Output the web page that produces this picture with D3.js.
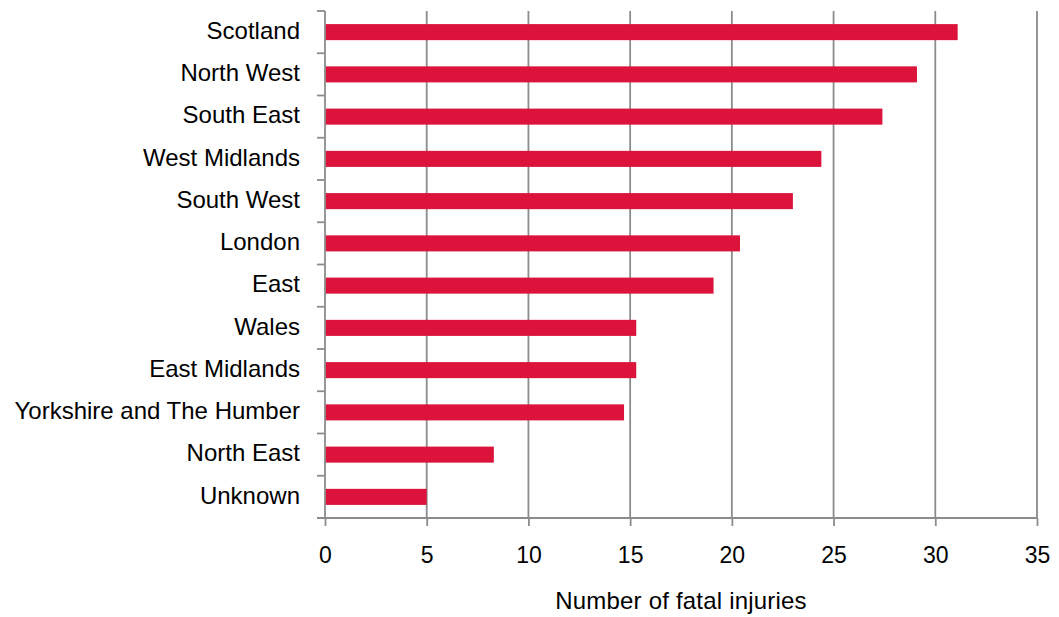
<!DOCTYPE html>
<html>
<head>
<meta charset="utf-8">
<script src="https://cdn.jsdelivr.net/npm/d3@7"></script>
<style>
  html, body { margin: 0; padding: 0; background: #fff; }
  svg { display: block; font-family: "Liberation Sans", Arial, sans-serif; }
</style>
</head>
<body>
<svg id="chart" width="1059" height="617"></svg>
<script>
// Fatal injuries by region
const regions = ["Scotland", "North West", "South East", "West Midlands", "South West",
  "London", "East", "Wales", "East Midlands", "Yorkshire and The Humber", "North East", "Unknown"];
const fatalInjuries = [31.1, 29.1, 27.4, 24.4, 23.0, 20.4, 19.1, 15.3, 15.3, 14.7, 8.3, 5.0];
const xTicks = [0, 5, 10, 15, 20, 25, 30, 35];
const xTitle = "Number of fatal injuries";

const margin = { top: 11, right: 22, bottom: 99, left: 325 };
const W = 1059, H = 617;
const innerW = W - margin.left - margin.right;
const innerH = H - margin.top - margin.bottom;

const svg = d3.select("#chart");
const g = svg.append("g").attr("transform", `translate(${margin.left},${margin.top})`);

const x = d3.scaleLinear().domain([0, 35]).range([0, innerW]);
const y = d3.scaleBand().domain(regions).range([0, innerH]).paddingInner(0.62).paddingOuter(0.31);

const axisColor = "#8c8c8c";
const tickLen = 8;

// vertical gridlines
g.append("g").selectAll("line")
  .data(xTicks.filter(t => t > 0))
  .join("line")
  .attr("x1", d => x(d)).attr("x2", d => x(d))
  .attr("y1", 0).attr("y2", innerH)
  .attr("stroke", axisColor).attr("stroke-width", 1.8);

// bars
g.append("g").selectAll("rect")
  .data(regions.map((r, i) => ({ region: r, value: fatalInjuries[i] })))
  .join("rect")
  .attr("x", x(0))
  .attr("y", d => y(d.region))
  .attr("width", d => x(d.value) - x(0))
  .attr("height", y.bandwidth())
  .attr("fill", "#dc143c");

// x axis
const xAxis = g.append("g")
  .attr("transform", `translate(0,${innerH})`)
  .call(d3.axisBottom(x).tickValues(xTicks).tickSize(tickLen).tickPadding(21).tickSizeOuter(0));
xAxis.select(".domain").remove();
xAxis.append("line")
  .attr("x1", -tickLen).attr("x2", innerW)
  .attr("stroke", axisColor).attr("stroke-width", 1.8);
xAxis.selectAll(".tick line").attr("stroke", axisColor).attr("stroke-width", 1.8);
xAxis.selectAll(".tick text")
  .attr("fill", "#000")
  .style("font-size", "23px")
  .attr("dy", "0.71em");

// y axis: category labels with tick marks between bands
const yAxis = g.append("g");
yAxis.append("line")
  .attr("x1", 0).attr("x2", 0).attr("y1", 0).attr("y2", innerH)
  .attr("stroke", axisColor).attr("stroke-width", 1.8);
const step = y.step();
const boundaries = d3.range(regions.length + 1).map(i => i * step);
yAxis.selectAll("line.sep")
  .data(boundaries)
  .join("line")
  .attr("class", "sep")
  .attr("x1", -tickLen).attr("x2", 0)
  .attr("y1", d => d).attr("y2", d => d)
  .attr("stroke", axisColor).attr("stroke-width", 1.8);
yAxis.selectAll("text")
  .data(regions)
  .join("text")
  .attr("x", -25)
  .attr("y", d => y(d) + y.bandwidth() / 2)
  .attr("dy", "0.28em")
  .attr("text-anchor", "end")
  .attr("fill", "#000")
  .style("font-size", "24px")
  .text(d => d);

// axis title
svg.append("text")
  .attr("x", 681)
  .attr("y", 609)
  .attr("text-anchor", "middle")
  .attr("fill", "#000")
  .style("font-size", "24px")
  .style("letter-spacing", "0.2px")
  .text(xTitle);
</script>
</body>
</html>
